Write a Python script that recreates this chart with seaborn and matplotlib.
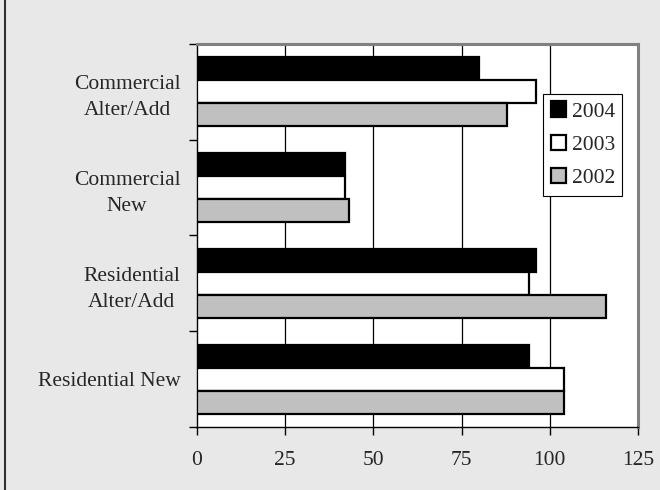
import matplotlib
matplotlib.use('Agg')
import matplotlib.pyplot as plt
import seaborn as sns
import pandas as pd
from matplotlib.lines import Line2D

categories = ['Commercial\nAlter/Add', 'Commercial\nNew', 'Residential\nAlter/Add', 'Residential New']
years = ['2004', '2003', '2002']
vals_2004 = [80, 42, 96, 94]
vals_2003 = [96, 42, 94, 104]
vals_2002 = [88, 43, 116, 104]
x_ticks = [0, 25, 50, 75, 100, 125]

df = pd.DataFrame({
    'category': categories * 3,
    'year': [y for y in years for _ in categories],
    'value': vals_2004 + vals_2003 + vals_2002,
})

sns.set_style('white')
plt.rcParams['font.family'] = ['Liberation Serif', 'DejaVu Serif']
FS = 15.5

fig = plt.figure(figsize=(6.6, 4.9), dpi=100)
fig.patch.set_facecolor('#e8e8e8')
ax = fig.add_axes([197 / 660, 1 - 427 / 490, 441 / 660, 383 / 490])
ax.set_facecolor('white')

palette = {'2004': 'black', '2003': 'white', '2002': '#c0c0c0'}
sns.barplot(data=df, y='category', x='value', hue='year', hue_order=years,
            order=categories, palette=palette, width=0.72, orient='h',
            edgecolor='black', linewidth=1.6, saturation=1, ax=ax, zorder=3)

ax.set_xlim(0, 125)
ax.set_ylim(3.5, -0.5)
ax.set_xticks(x_ticks)
ax.set_xticklabels([str(t) for t in x_ticks], fontsize=FS)
for t in x_ticks[1:-1]:
    ax.axvline(t, color='black', linewidth=0.9, zorder=1)

ax.set_yticks(range(len(categories)))
ax.set_yticklabels(categories, fontsize=FS, multialignment='center', linespacing=1.5)
ax.tick_params(axis='y', length=0, pad=12)
ax.set_yticks([i - 0.5 for i in range(len(categories) + 1)], minor=True)
ax.tick_params(axis='y', which='minor', length=6, width=1, color='black', direction='out', left=True)
ax.tick_params(axis='x', length=6, width=1, color='black', direction='out', bottom=True, pad=11)
ax.set_xlabel('')
ax.set_ylabel('')

for side in ['left', 'bottom']:
    ax.spines[side].set_color('black')
    ax.spines[side].set_linewidth(1)
for side in ['top', 'right']:
    ax.spines[side].set_visible(True)
    ax.spines[side].set_color('#808080')
    ax.spines[side].set_linewidth(2.2)

leg = ax.legend(loc='upper left', bbox_to_anchor=(0.785, 0.87), fontsize=FS,
                frameon=True, fancybox=False, edgecolor='black', framealpha=1,
                handlelength=0.72, handleheight=0.72, handletextpad=0.25,
                labelspacing=0.61, borderpad=0.35, borderaxespad=0)
leg.get_frame().set_linewidth(0.8)

fig.add_artist(Line2D([4.5 / 660, 4.5 / 660], [0, 1], color='#303030', linewidth=1.5))

fig.savefig('out.png', dpi=100, facecolor=fig.get_facecolor())
